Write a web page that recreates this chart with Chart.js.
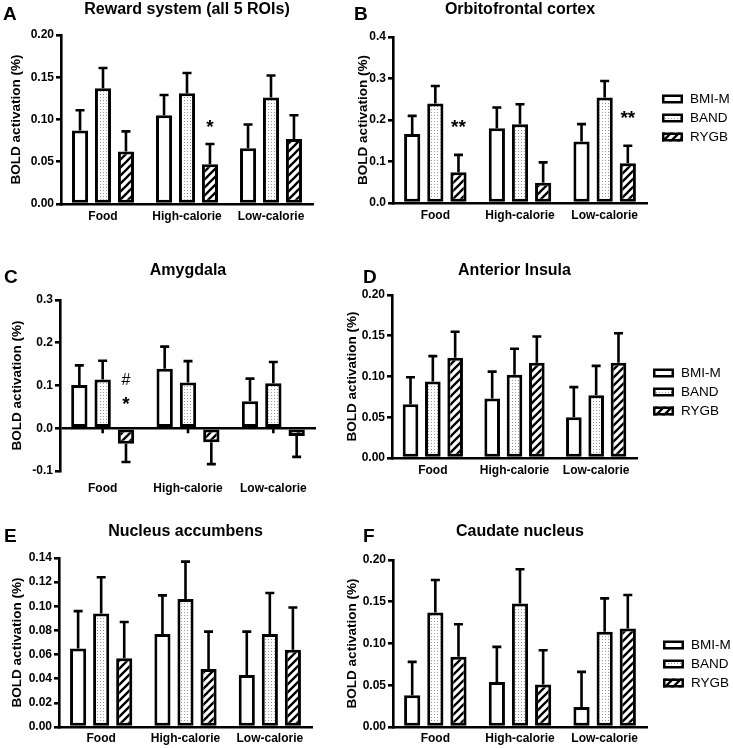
<!DOCTYPE html>
<html>
<head>
<meta charset="utf-8">
<script src="https://cdn.jsdelivr.net/npm/chart.js@4.4.1/dist/chart.umd.min.js"></script>
<style>
  html, body { margin: 0; padding: 0; background: #fff; overflow: hidden; }
  #fig { position: relative; width: 733px; height: 748px; font-family: "Liberation Sans", Arial, Helvetica, sans-serif; color: #000; }
  #fig canvas { position: absolute; }
  .tag { position: absolute; font-weight: bold; font-size: 19px; line-height: 19px; }
  .ttl { position: absolute; font-weight: bold; font-size: 16px; line-height: 16px; white-space: nowrap; transform: translateX(-50%); }
</style>
</head>
<body>
<div id="fig"></div>
<script>
const groups = ['Food', 'High-calorie', 'Low-calorie'];
const seriesNames = ['BMI-M', 'BAND', 'RYGB'];

// A: reward system (all 5 ROIs)
const rewardBmi = [0.087, 0.105, 0.066];
const rewardBand = [0.137, 0.131, 0.126];
const rewardRygb = [0.062, 0.047, 0.077];
const rewardBmiErr = [0.024, 0.024, 0.028];
const rewardBandErr = [0.024, 0.024, 0.026];
const rewardRygbErr = [0.024, 0.024, 0.028];
const rewardTicks = [0, 0.05, 0.10, 0.15, 0.20];
const rewardMarks = [{ cat: 1, set: 2, text: '*', at: 0.095 }];

// B: orbitofrontal cortex
const ofcBmi = [0.166, 0.180, 0.148];
const ofcBand = [0.240, 0.190, 0.254];
const ofcRygb = [0.074, 0.049, 0.096];
const ofcBmiErr = [0.044, 0.050, 0.042];
const ofcBandErr = [0.042, 0.048, 0.040];
const ofcRygbErr = [0.042, 0.049, 0.042];
const ofcTicks = [0, 0.1, 0.2, 0.3, 0.4];
const ofcMarks = [{ cat: 0, set: 2, text: '**', at: 0.192 }, { cat: 2, set: 2, text: '**', at: 0.214 }];

// C: amygdala
const amyBmi = [0.101, 0.139, 0.063];
const amyBand = [0.114, 0.107, 0.105];
const amyRygb = [-0.036, -0.033, -0.018];
const amyBmiErr = [0.046, 0.052, 0.053];
const amyBandErr = [0.044, 0.050, 0.050];
const amyRygbErr = [0.043, 0.051, 0.049];
const amyTicks = [-0.1, 0, 0.1, 0.2, 0.3];
const amyMarks = [{ cat: 0, set: 2, text: '#', at: 0.115 }, { cat: 0, set: 2, text: '*', at: 0.064 }];

// D: anterior insula
const insBmi = [0.066, 0.073, 0.050];
const insBand = [0.094, 0.102, 0.077];
const insRygb = [0.123, 0.117, 0.117];
const insBmiErr = [0.033, 0.033, 0.037];
const insBandErr = [0.031, 0.032, 0.036];
const insRygbErr = [0.032, 0.032, 0.036];
const insTicks = [0, 0.05, 0.10, 0.15, 0.20];

// E: nucleus accumbens
const naBmi = [0.065, 0.077, 0.043];
const naBand = [0.094, 0.106, 0.077];
const naRygb = [0.057, 0.048, 0.064];
const naBmiErr = [0.031, 0.032, 0.036];
const naBandErr = [0.030, 0.031, 0.034];
const naRygbErr = [0.030, 0.031, 0.035];
const naTicks = [0, 0.02, 0.04, 0.06, 0.08, 0.10, 0.12, 0.14];

// F: caudate nucleus
const cauBmi = [0.038, 0.054, 0.024];
const cauBand = [0.137, 0.148, 0.114];
const cauRygb = [0.084, 0.051, 0.118];
const cauBmiErr = [0.040, 0.042, 0.042];
const cauBandErr = [0.039, 0.041, 0.040];
const cauRygbErr = [0.039, 0.041, 0.040];
const cauTicks = [0, 0.05, 0.10, 0.15, 0.20];

const FONT = '"Liberation Sans", Arial, Helvetica, sans-serif';
Chart.defaults.font.family = FONT;
Chart.defaults.color = '#000';

function dotPattern(ctx) {
  const c = document.createElement('canvas');
  c.width = 3; c.height = 3;
  const g = c.getContext('2d');
  g.fillStyle = '#fff';
  g.fillRect(0, 0, 3, 3);
  g.fillStyle = '#999';
  g.fillRect(1, 1, 1, 1);
  return ctx.createPattern(c, 'repeat');
}

function hatchPattern(ctx) {
  const s = 8;
  const c = document.createElement('canvas');
  c.width = s; c.height = s;
  const g = c.getContext('2d');
  g.fillStyle = '#fff';
  g.fillRect(0, 0, s, s);
  g.strokeStyle = '#000';
  g.lineWidth = 2.3;
  g.beginPath();
  g.moveTo(0, s); g.lineTo(s, 0);
  g.moveTo(-s / 2, s / 2); g.lineTo(s / 2, -s / 2);
  g.moveTo(s / 2, s * 1.5); g.lineTo(s * 1.5, s / 2);
  g.stroke();
  return ctx.createPattern(c, 'repeat');
}

// error bars, significance marks and the little zero-line ticks of panel C
const errorBars = {
  id: 'errorBars',
  afterDatasetsDraw(chart, args, opts) {
    const { ctx } = chart;
    const y = chart.scales.y;
    const x = chart.scales.x;
    ctx.save();
    ctx.strokeStyle = '#000';
    ctx.lineWidth = 2.6;
    chart.data.datasets.forEach((ds, i) => {
      chart.getDatasetMeta(i).data.forEach((bar, j) => {
        const v = ds.data[j];
        const end = y.getPixelForValue(v >= 0 ? v + ds.errors[j] : v - ds.errors[j]);
        ctx.beginPath();
        ctx.moveTo(bar.x, bar.y);
        ctx.lineTo(bar.x, end);
        ctx.moveTo(bar.x - 4.5, end);
        ctx.lineTo(bar.x + 4.5, end);
        ctx.stroke();
      });
    });
    if (opts.zeroTicks) {
      const y0 = y.getPixelForValue(0);
      groups.forEach((g, i) => {
        const px = x.getPixelForValue(i);
        ctx.beginPath();
        ctx.moveTo(px, y0);
        ctx.lineTo(px, y0 + 5);
        ctx.stroke();
      });
    }
    ctx.fillStyle = '#000';
    ctx.textAlign = 'center';
    ctx.textBaseline = 'alphabetic';
    (opts.marks || []).forEach(m => {
      const bar = chart.getDatasetMeta(m.set).data[m.cat];
      ctx.font = m.text === '#' ? '16px ' + FONT : 'bold 19px ' + FONT;
      const tm = ctx.measureText(m.text);
      const yc = y.getPixelForValue(m.at);
      ctx.fillText(m.text, bar.x, yc + (tm.actualBoundingBoxAscent - tm.actualBoundingBoxDescent) / 2);
    });
    ctx.restore();
  }
};

const legendBox = {
  id: 'legendBox',
  afterDraw(chart, args, opts) {
    if (!opts.show) return;
    const { ctx } = chart;
    ctx.save();
    chart.data.datasets.forEach((ds, i) => {
      const cy = opts.y + i * 19;
      ctx.fillStyle = ds.backgroundColor;
      ctx.fillRect(opts.x, cy - 4.5, 21, 9);
      ctx.strokeStyle = '#000';
      ctx.lineWidth = 2.5;
      ctx.strokeRect(opts.x + 1.25, cy - 3.25, 18.5, 6.5);
      ctx.fillStyle = '#000';
      ctx.font = '13.5px ' + FONT;
      ctx.textAlign = 'left';
      ctx.textBaseline = 'middle';
      ctx.fillText(ds.label, opts.x + 28, cy + 0.5);
    });
    ctx.restore();
  }
};

const panels = [
  { tag: 'A', title: 'Reward system (all 5 ROIs)', values: [rewardBmi, rewardBand, rewardRygb],
    errors: [rewardBmiErr, rewardBandErr, rewardRygbErr], ticks: rewardTicks, dec: 2, marks: rewardMarks,
    box: { l: 0, t: 0, w: 340, h: 235 }, plot: { l: 61, r: 313, t: 35, b: 204 },
    tagAt: [3, 3.5], titleTop: 0.5, ytPad: 8, xPad: 5 },
  { tag: 'B', title: 'Orbitofrontal cortex', values: [ofcBmi, ofcBand, ofcRygb],
    errors: [ofcBmiErr, ofcBandErr, ofcRygbErr], ticks: ofcTicks, dec: 1, marks: ofcMarks,
    box: { l: 340, t: 0, w: 393, h: 235 }, plot: { l: 393, r: 647, t: 37, b: 203 },
    tagAt: [354, 3.5], titleTop: 0.5, ytPad: 15, xPad: 5, legend: [662, 99] },
  { tag: 'C', title: 'Amygdala', values: [amyBmi, amyBand, amyRygb],
    errors: [amyBmiErr, amyBandErr, amyRygbErr], ticks: amyTicks, dec: 1, marks: amyMarks,
    box: { l: 0, t: 235, w: 340, h: 265 }, plot: { l: 60, r: 316, t: 300, b: 471 },
    tagAt: [4, 267], titleTop: 261.5, ytPad: 9, xPad: 10, zero: true },
  { tag: 'D', title: 'Anterior Insula', values: [insBmi, insBand, insRygb],
    errors: [insBmiErr, insBandErr, insRygbErr], ticks: insTicks, dec: 2,
    box: { l: 340, t: 235, w: 393, h: 265 }, plot: { l: 392, r: 637, t: 295, b: 458 },
    tagAt: [363, 267], titleTop: 261.5, ytPad: 4, xPad: 5, legend: [653, 373] },
  { tag: 'E', title: 'Nucleus accumbens', values: [naBmi, naBand, naRygb],
    errors: [naBmiErr, naBandErr, naRygbErr], ticks: naTicks, dec: 2,
    box: { l: 0, t: 500, w: 340, h: 248 }, plot: { l: 59, r: 312, t: 558, b: 727 },
    tagAt: [4, 526], titleTop: 522.5, ytPad: 9, xPad: 4 },
  { tag: 'F', title: 'Caudate nucleus', values: [cauBmi, cauBand, cauRygb],
    errors: [cauBmiErr, cauBandErr, cauRygbErr], ticks: cauTicks, dec: 2,
    box: { l: 340, t: 500, w: 393, h: 248 }, plot: { l: 393, r: 647, t: 560, b: 727 },
    tagAt: [363, 526], titleTop: 522.5, ytPad: 4, xPad: 4, legend: [663, 645] }
];

function makePanel(p) {
  const fig = document.getElementById('fig');
  const cv = document.createElement('canvas');
  cv.width = p.box.w;
  cv.height = p.box.h;
  cv.style.left = p.box.l + 'px';
  cv.style.top = p.box.t + 'px';
  fig.appendChild(cv);

  const tag = document.createElement('div');
  tag.className = 'tag';
  tag.textContent = p.tag;
  tag.style.left = p.tagAt[0] + 'px';
  tag.style.top = p.tagAt[1] + 'px';
  fig.appendChild(tag);

  const ttl = document.createElement('div');
  ttl.className = 'ttl';
  ttl.textContent = p.title;
  ttl.style.left = ((p.plot.l + p.plot.r) / 2) + 'px';
  ttl.style.top = p.titleTop + 'px';
  fig.appendChild(ttl);

  const ctx = cv.getContext('2d');
  const fills = ['#ffffff', dotPattern(ctx), hatchPattern(ctx)];
  const datasets = p.values.map((vals, i) => ({
    label: seriesNames[i],
    data: vals,
    errors: p.errors[i],
    backgroundColor: fills[i],
    borderColor: '#000',
    borderWidth: 3,
    borderSkipped: false,
    categoryPercentage: 0.82,
    barPercentage: 0.7
  }));
  const yWidth = p.plot.l - p.box.l;
  const xHeight = p.box.t + p.box.h - p.plot.b;
  const tickFont = { size: 12, weight: 'bold' };

  new Chart(cv, {
    type: 'bar',
    data: { labels: groups, datasets },
    options: {
      responsive: false,
      animation: false,
      layout: { padding: { left: 0, top: p.plot.t - p.box.t, right: p.box.l + p.box.w - p.plot.r, bottom: 0 } },
      plugins: {
        legend: { display: false },
        tooltip: { enabled: false },
        errorBars: { marks: p.marks || [], zeroTicks: !!p.zero },
        legendBox: p.legend ? { show: true, x: p.legend[0] - p.box.l, y: p.legend[1] - p.box.t } : { show: false }
      },
      scales: {
        x: {
          grid: { display: false, drawTicks: false },
          border: { display: !p.zero, color: '#000', width: 2.6 },
          ticks: { font: tickFont, color: '#000', padding: p.xPad },
          afterFit: s => { s.height = xHeight; }
        },
        y: {
          min: p.ticks[0],
          max: p.ticks[p.ticks.length - 1],
          afterBuildTicks: s => { s.ticks = p.ticks.map(v => ({ value: v })); },
          ticks: { font: tickFont, color: '#000', padding: 2, callback: v => Number(v).toFixed(p.dec) },
          grid: {
            drawOnChartArea: !!p.zero,
            color: c => (c.tick && c.tick.value === 0 ? '#000' : 'rgba(0,0,0,0)'),
            tickColor: '#000',
            tickLength: 5,
            lineWidth: 2.6
          },
          border: { color: '#000', width: 2.6 },
          title: { display: true, text: 'BOLD activation (%)', font: { size: 13.5, weight: 'bold' }, color: '#000', padding: { top: p.ytPad, bottom: 0 } },
          afterFit: s => { s.width = yWidth; }
        }
      }
    },
    plugins: [errorBars, legendBox]
  });
}

panels.forEach(makePanel);
</script>
</body>
</html>
